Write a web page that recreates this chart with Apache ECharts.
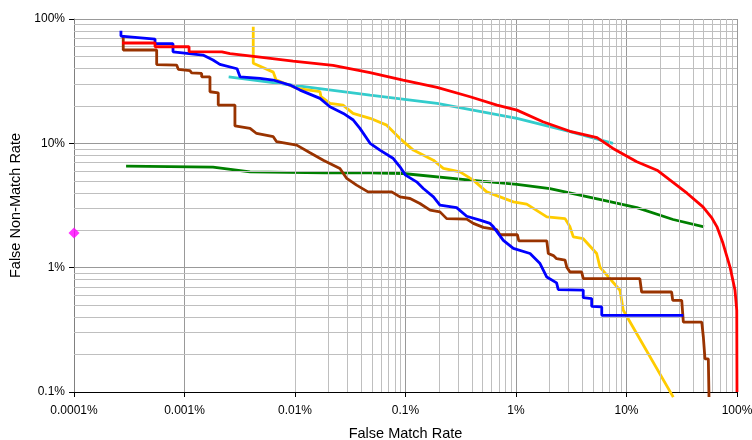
<!DOCTYPE html>
<html>
<head>
<meta charset="utf-8">
<script src="https://cdn.jsdelivr.net/npm/echarts@6/dist/echarts.min.js"></script>
<style>
html,body{margin:0;padding:0;background:#fff;}
#chart{width:752px;height:440px;}
</style>
</head>
<body>
<div id="chart"></div>
<script>
// Values in percent: [False Match Rate, False Non-Match Rate]
const xTicks = [0.0001, 0.001, 0.01, 0.1, 1, 10, 100];
const yTicks = [0.1, 1, 10, 100];
const minorMultipliers = [2, 3, 4, 5, 6, 7, 8, 9];

const redCurve = [
  [2.72e-4, 64.1], [5.41e-4, 64.1], [5.41e-4, 59.8], [1.10e-3, 59.8], [1.10e-3, 54.6],
  [2.18e-3, 54.4], [2.58e-3, 52.6], [4.82e-3, 49.4], [9.6e-3, 45.9], [0.0221, 42.4],
  [0.0478, 37.0], [0.0949, 32.3], [0.193, 28.2], [0.384, 23.7], [0.673, 20.3],
  [1.02, 18.5], [1.75, 14.9], [3.08, 12.5], [5.41, 11.1], [7.55, 9.1], [12.4, 7.1],
  [18.9, 6.08], [24.8, 5.06], [35.3, 3.97], [49.2, 3.08], [59.4, 2.50], [65.9, 2.13],
  [74.7, 1.57], [86.5, 1.01], [95.9, 0.66], [99.5, 0.454], [100, 0.1]
];
const cyanCurve = [
  [2.51e-3, 34.3], [0.0111, 28.9], [0.0478, 24.4], [0.193, 21.0], [1.02, 15.9],
  [3.08, 12.4], [7.55, 10.0]
];
const greenCurve = [
  [2.96e-4, 6.55], [1.81e-3, 6.43], [3.92e-3, 5.90], [0.0187, 5.79], [0.0478, 5.80],
  [0.0949, 5.72], [0.384, 5.06], [1.02, 4.67], [2.03, 4.33], [6.12, 3.49],
  [12.4, 3.04], [26.4, 2.44], [50.3, 2.13]
];
const yellowCurve = [
  [4.19e-3, 86.7], [4.19e-3, 44.0], [6.36e-3, 37.4], [6.73e-3, 32.5], [0.01036, 27.7],
  [0.01683, 26.0], [0.0172, 23.7], [0.02074, 20.96], [0.0272, 20.3], [0.0335, 17.4],
  [0.0478, 15.9], [0.0676, 14.0], [0.0891, 10.95], [0.100, 10.0], [0.1177, 8.82],
  [0.1786, 7.32], [0.220, 6.28], [0.311, 5.90], [0.411, 5.06], [0.543, 4.07],
  [0.946, 3.38], [1.25, 3.24], [1.90, 2.56], [2.78, 2.48], [3.08, 2.13], [3.30, 1.77],
  [4.06, 1.71], [5.37, 1.30], [5.75, 1.01], [8.73, 0.658], [9.35, 0.454], [26.5, 0.091]
];
const brownCurve = [
  [2.79e-4, 74.3], [2.79e-4, 56.3], [5.60e-4, 56.3], [5.60e-4, 43.0], [8.49e-4, 42.6],
  [8.79e-4, 39.4], [1.12e-3, 38.4], [1.16e-3, 36.9], [1.43e-3, 36.5], [1.43e-3, 34.3],
  [1.70e-3, 34.3], [1.70e-3, 26.0], [2.02e-3, 25.5], [2.02e-3, 20.3], [2.86e-3, 20.3],
  [2.86e-3, 13.8], [3.92e-3, 13.2], [4.49e-3, 12.0], [6.36e-3, 11.3], [6.82e-3, 10.3],
  [0.01036, 9.67], [0.01367, 8.39], [0.01803, 7.32], [0.0255, 6.28], [0.0294, 5.22],
  [0.0361, 4.61], [0.0458, 4.07], [0.0750, 4.07], [0.0891, 3.71], [0.110, 3.60],
  [0.135, 3.28], [0.167, 2.90], [0.205, 2.81], [0.236, 2.48], [0.358, 2.46],
  [0.411, 2.27], [0.506, 2.11], [0.669, 2.02], [0.716, 1.84], [1.03, 1.84],
  [1.06, 1.64], [1.90, 1.64], [1.96, 1.30], [2.18, 1.25], [2.33, 1.18], [2.78, 1.15],
  [2.88, 1.01], [3.08, 0.923], [3.93, 0.923], [4.06, 0.817], [13.2, 0.817],
  [13.7, 0.637], [25.6, 0.637], [26.2, 0.546], [31.6, 0.546], [32.7, 0.365],
  [48.0, 0.365], [49.6, 0.277], [51.3, 0.185], [55.0, 0.185], [55.8, 0.091]
];
const blueCurve = [
  [2.66e-4, 80.5], [2.66e-4, 72.9], [5.41e-4, 69.0], [5.41e-4, 63.3], [7.87e-4, 63.3],
  [7.87e-4, 54.5], [1.47e-3, 51.3], [1.81e-3, 46.8], [2.09e-3, 43.2], [2.99e-3, 39.8],
  [3.18e-3, 34.3], [4.82e-3, 33.3], [6.33e-3, 32.3], [9.02e-3, 29.4], [0.0111, 26.8],
  [0.01683, 23.0], [0.0207, 19.7], [0.0274, 17.4], [0.0337, 15.4], [0.0387, 13.2],
  [0.0478, 10.0], [0.0587, 8.82], [0.0776, 7.55], [0.0891, 6.47], [0.100, 5.55],
  [0.126, 4.90], [0.145, 4.33], [0.179, 3.71], [0.205, 3.18], [0.290, 3.04],
  [0.358, 2.59], [0.472, 2.41], [0.582, 2.27], [0.624, 2.13], [0.768, 1.66],
  [0.946, 1.43], [1.34, 1.30], [1.65, 1.08], [1.90, 0.841], [2.33, 0.755],
  [2.41, 0.667], [4.06, 0.66], [4.06, 0.574], [4.84, 0.564], [4.84, 0.489],
  [5.97, 0.483], [5.97, 0.414], [32.7, 0.414]
];
const magentaPoint = [[0.0001, 1.9]];

function pctLabel(v) {
  return parseFloat(Number(v).toPrecision(1)) + '%';
}

const minorX = [];
for (let k = 0; k < xTicks.length - 1; k++) {
  minorMultipliers.forEach(m => minorX.push({ xAxis: xTicks[k] * m }));
}
const minorY = [];
for (let k = 0; k < yTicks.length - 1; k++) {
  minorMultipliers.forEach(m => minorY.push({ yAxis: yTicks[k] * m }));
}

const FONT = "'Liberation Sans', Arial, sans-serif";

function lineSeries(name, data, color, z, clip) {
  return {
    name: name, type: 'line', data: data, symbol: 'none', smooth: false,
    lineStyle: { color: color, width: 2.8 }, z: z, clip: clip
  };
}

const chart = echarts.init(document.getElementById('chart'), null, { renderer: 'canvas' });
chart.setOption({
  animation: false,
  backgroundColor: '#ffffff',
  grid: { left: 74, right: 15, top: 19, bottom: 48, containLabel: false, outerBoundsMode: 'none' },
  xAxis: {
    type: 'log', logBase: 10, min: 0.0001, max: 100, splitNumber: 6,
    name: 'False Match Rate', nameLocation: 'middle', nameGap: 34,
    nameTextStyle: { fontFamily: FONT, fontSize: 14.5, color: '#000' },
    axisLine: { show: true, onZero: false, lineStyle: { color: '#000', width: 1 } },
    axisTick: { show: true, length: 5, lineStyle: { color: '#000' } },
    axisLabel: { formatter: pctLabel, fontFamily: FONT, fontSize: 12, color: '#000', margin: 13, showMinLabel: true, showMaxLabel: true },
    splitLine: { show: true, lineStyle: { color: '#999999', width: 1 } },
    minorTick: { show: false }, minorSplitLine: { show: false }
  },
  yAxis: {
    type: 'log', logBase: 10, min: 0.1, max: 100, splitNumber: 3,
    name: 'False Non-Match Rate', nameLocation: 'middle', nameGap: 42,
    nameTextStyle: { fontFamily: FONT, fontSize: 14.5, color: '#000' },
    axisLine: { show: true, lineStyle: { color: '#808080', width: 1 } },
    axisTick: { show: true, length: 5, lineStyle: { color: '#000' } },
    axisLabel: { formatter: pctLabel, fontFamily: FONT, fontSize: 12, color: '#000', margin: 9 },
    splitLine: { show: true, lineStyle: { color: '#999999', width: 1 } }
  },
  series: [
    {
      type: 'line', data: [], symbol: 'none', z: 1, silent: true,
      markLine: {
        silent: true, symbol: ['none', 'none'], animation: false,
        label: { show: false },
        lineStyle: { color: '#bfbfbf', width: 1, type: 'solid' },
        emphasis: { disabled: true },
        data: minorX.concat(minorY)
      }
    },
    lineSeries('green', greenCurve, '#008000', 2, true),
    lineSeries('cyan', cyanCurve, '#33CCCC', 3, true),
    lineSeries('yellow', yellowCurve, '#FFCC00', 4, false),
    lineSeries('brown', brownCurve, '#993300', 5, false),
    lineSeries('blue', blueCurve, '#0000FF', 6, true),
    lineSeries('red', redCurve, '#FF0000', 7, true),
    {
      name: 'point', type: 'scatter', data: magentaPoint, symbol: 'diamond', symbolSize: 11,
      itemStyle: { color: '#FF00FF' }, z: 8, clip: false
    }
  ]
});
</script>
</body>
</html>
